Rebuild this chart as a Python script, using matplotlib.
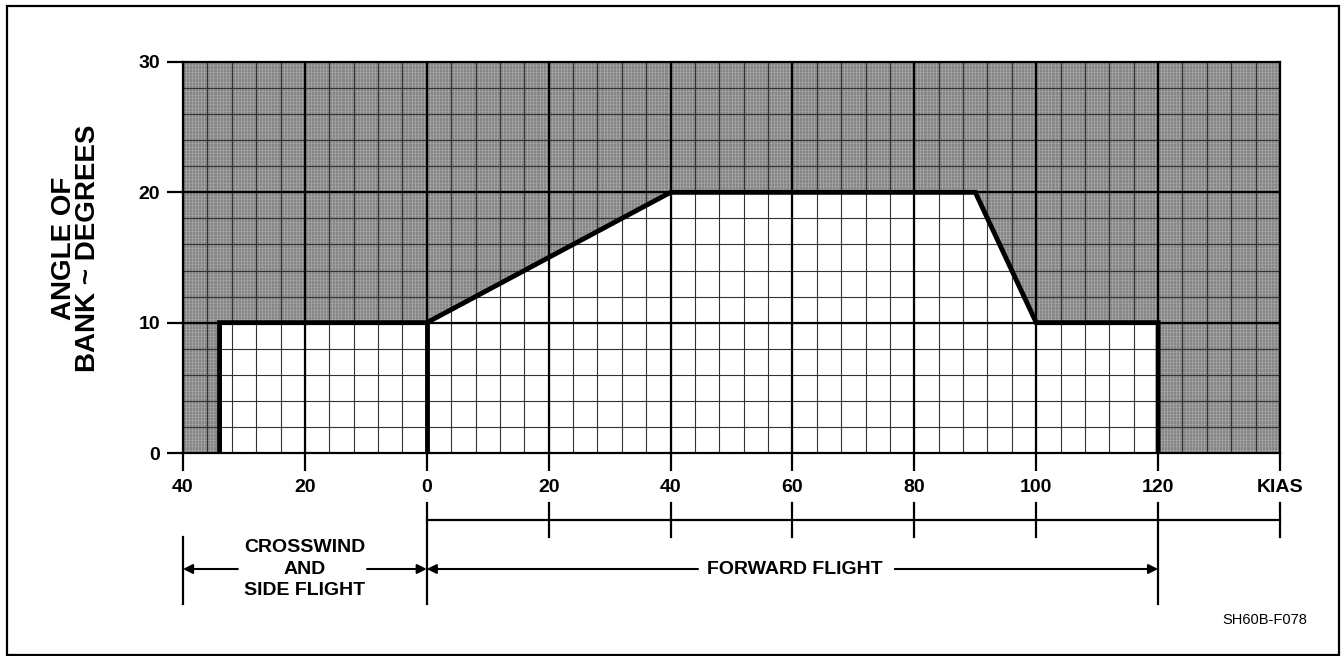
import numpy as np
import matplotlib
matplotlib.use("Agg")
import matplotlib.pyplot as plt
from matplotlib import transforms
from matplotlib.patches import Polygon, Rectangle

# Envelope del angulo de banqueo (KIAS negativo = viento cruzado / vuelo lateral)
env_x = [-34, -34, 0, 40, 90, 100, 120, 120]
env_y = [0, 10, 10, 20, 20, 10, 10, 0]

x_ticks = [-40, -20, 0, 20, 40, 60, 80, 100, 120, 140]
x_labels = ["40", "20", "0", "20", "40", "60", "80", "100", "120", "KIAS"]
y_ticks = [0, 10, 20, 30]

scale_ticks = [0, 20, 40, 60, 80, 100, 120, 140]
region_edges = [-40, 0, 120]

plt.rcParams['font.family'] = ['Liberation Sans', 'DejaVu Sans']

W, H = 1344, 656
fig = plt.figure(figsize=(W / 100, H / 100), dpi=100)
ax = fig.add_axes([183 / W, 1 - 453 / H, (1280 - 183) / W, (453 - 62) / H])
ax.set_xlim(-40, 140)
ax.set_ylim(0, 30)

# fondo gris con textura fina
ax.set_facecolor('#858585')
for xv in np.arange(-40, 140, 0.5):
    ax.axvline(xv, color='#b0b0b0', lw=0.45, zorder=0.5)
for yv in np.arange(0, 30, 0.25):
    ax.axhline(yv, color='#a8a8a8', lw=0.4, zorder=0.5)

# zona permitida en blanco
ax.add_patch(Polygon(np.column_stack([env_x, env_y]), closed=True,
                     facecolor='white', edgecolor='none', zorder=1))

# cuadricula
for xv in np.arange(-40, 141, 4):
    ax.axvline(xv, color='#333333', lw=0.8, zorder=2)
for yv in np.arange(0, 31, 2):
    ax.axhline(yv, color='#333333', lw=0.8, zorder=2)
for xv in np.arange(-40, 141, 20):
    ax.axvline(xv, color='black', lw=1.6, zorder=2.1)
for yv in [10, 20]:
    ax.axhline(yv, color='black', lw=1.6, zorder=2.1)

# limite
ax.plot(env_x, env_y, color='black', lw=3.5, solid_joinstyle='miter', zorder=3)
ax.plot([0, 0], [0, 10], color='black', lw=3.5, zorder=3)

for s in ax.spines.values():
    s.set_linewidth(1.6)
    s.set_zorder(4)

ax.set_xticks(x_ticks)
ax.set_xticklabels(x_labels)
ax.set_yticks(y_ticks)
ax.tick_params(axis='x', length=13, width=1.6, pad=6, labelsize=14)
ax.tick_params(axis='y', length=11.5, width=1.6, pad=5, labelsize=14)
for t in ax.get_xticklabels() + ax.get_yticklabels():
    t.set_fontweight('bold')

fig.text(76 / W, 1 - 248 / H, "ANGLE OF\nBANK ~ DEGREES", rotation=90,
         ha='center', va='center', fontsize=20, fontweight='bold', linespacing=0.9)

# escala inferior y flechas
tr = transforms.blended_transform_factory(ax.transData, fig.transFigure)
fy = lambda p: 1 - p / H

ax.plot([0, 140], [fy(520)] * 2, color='black', lw=1.6, transform=tr, clip_on=False)
for xv in scale_ticks:
    if xv in region_edges:
        ax.plot([xv, xv], [fy(503), fy(604)], color='black', lw=1.6, transform=tr, clip_on=False)
    else:
        ax.plot([xv, xv], [fy(503), fy(537)], color='black', lw=1.6, transform=tr, clip_on=False)
ax.plot([-40, -40], [fy(537), fy(604)], color='black', lw=1.6, transform=tr, clip_on=False)

arrows = [(-31, -40), (-9.8, 0), (44.5, 0), (76.8, 120)]
for x0, x1 in arrows:
    ax.annotate("", xy=(x1, fy(569)), xytext=(x0, fy(569)), xycoords=tr, textcoords=tr,
                arrowprops=dict(arrowstyle='-|>', color='black', lw=1.5,
                                mutation_scale=14, shrinkA=0, shrinkB=0))

fig.text(305 / W, fy(569), "CROSSWIND\nAND\nSIDE FLIGHT", ha='center', va='center',
         fontsize=14, fontweight='bold', linespacing=1.35)
fig.text(795 / W, fy(569), "FORWARD FLIGHT", ha='center', va='center',
         fontsize=14, fontweight='bold')
fig.text(1307 / W, fy(620), "SH60B-F078", ha='right', va='center', fontsize=10.5)

fig.patches.append(Rectangle((7 / W, 1 - 655 / H), (1339 - 7) / W, (655 - 6) / H,
                             transform=fig.transFigure, fill=False, lw=1.6, edgecolor='black'))

fig.savefig("out.png", dpi=100)
